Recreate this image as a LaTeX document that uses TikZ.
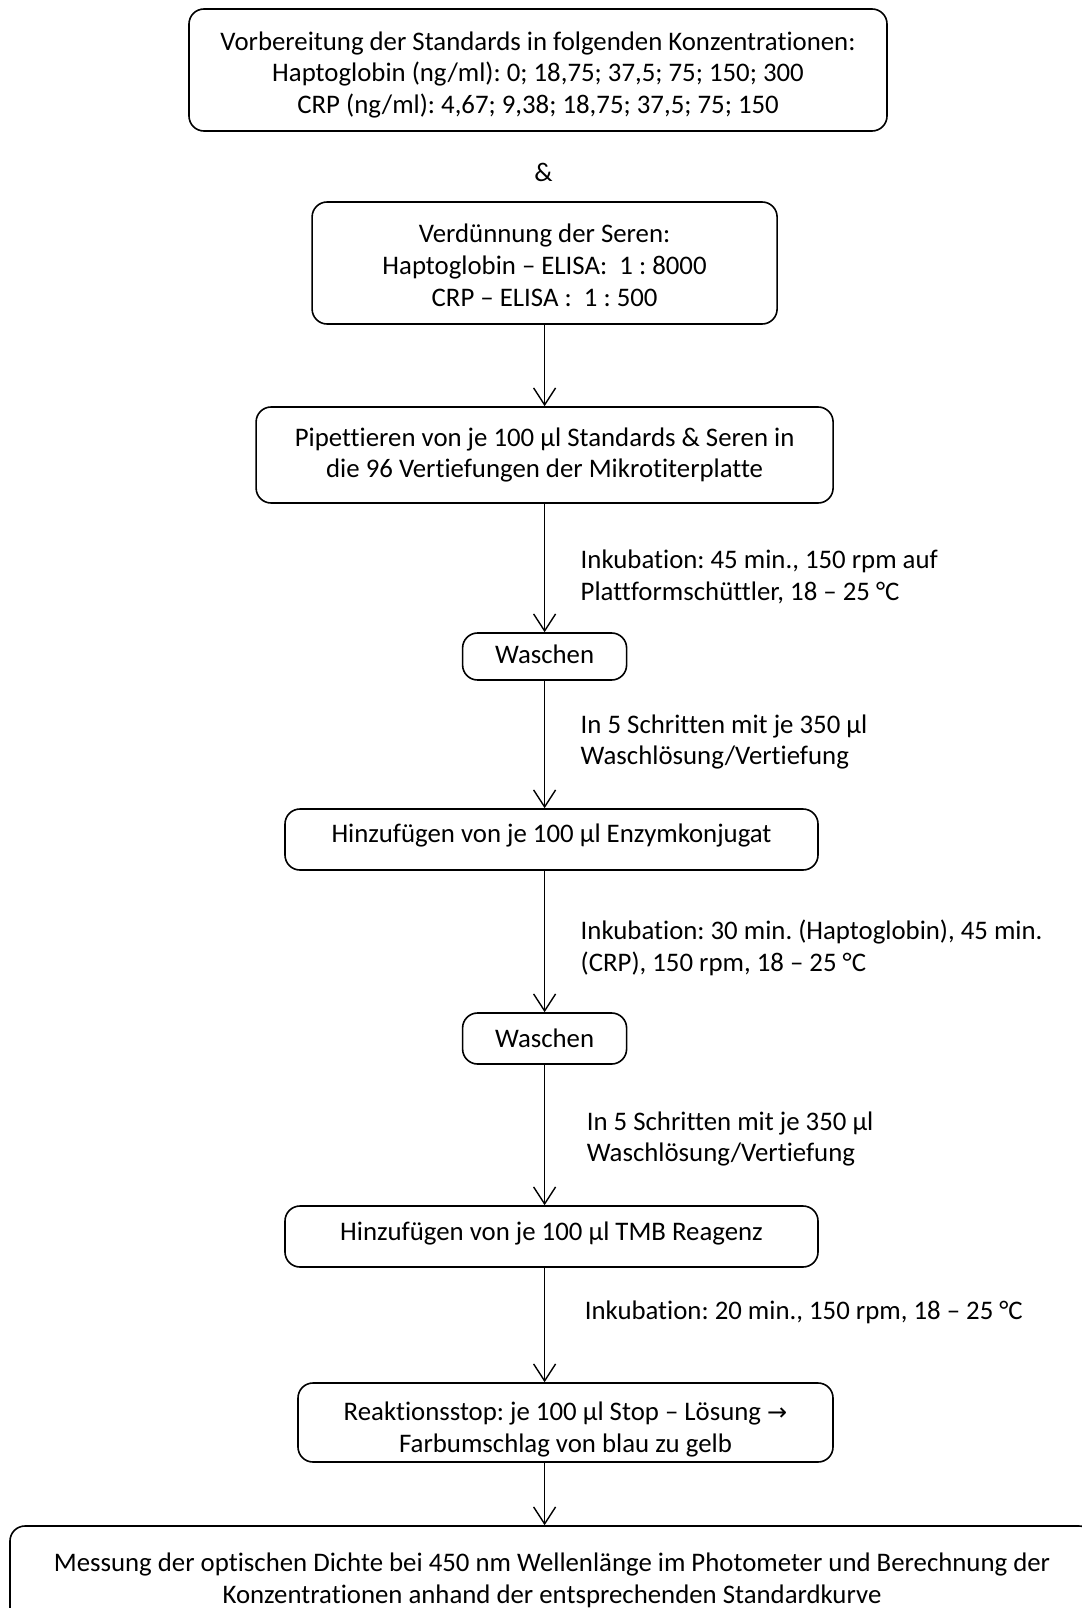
\documentclass[tikz,border=0pt]{standalone}
\usepackage{fontspec}
\setmainfont[Ligatures={NoCommon}]{Carlito}
\newfontfamily\arrowfont{DejaVu Sans}
\usetikzlibrary{arrows.meta}
\frenchspacing
\begin{document}
\begin{tikzpicture}[x=1pt,y=-1pt,
  every node/.style={font=\fontsize{26.8}{31.8}\selectfont\frenchspacing, inner sep=0pt},
  box/.style={draw, line width=1.6pt, rounded corners=15pt},
  txt/.style={align=center},
  lbl/.style={anchor=west, align=left},
  arr/.style={line width=1.4pt, -{Straight Barb[length=17pt,width=22pt,line width=1.4pt]}}]
\useasboundingbox (0,0) rectangle (1081,1608);
% boxes
\node[box, minimum width=698pt, minimum height=122pt] (b1) at (538,70) {};
\node[box, minimum width=465pt, minimum height=122pt] (b2) at (544.6,263) {};
\node[box, minimum width=577pt, minimum height=96pt] (b3) at (544.6,455) {};
\node[box, minimum width=164pt, minimum height=47pt] (b4) at (544.6,656.5) {};
\node[box, minimum width=533pt, minimum height=61pt] (b5) at (551.5,839.5) {};
\node[box, minimum width=164pt, minimum height=51pt] (b6) at (544.6,1038.5) {};
\node[box, minimum width=533pt, minimum height=61pt] (b7) at (551.5,1236.5) {};
\node[box, minimum width=535pt, minimum height=79pt] (b8) at (565.5,1422.5) {};
\node[box, minimum width=1084pt, minimum height=109pt] (b9) at (552,1580.5) {};
% box texts
\node[txt] (t1) at ([yshift=-5pt]b1.center)
  {Vorbereitung der Standards in folgenden Konzentrationen:\\Haptoglobin (ng/ml): 0; 18,75; 37,5; 75; 150; 300\\CRP (ng/ml): 4,67; 9,38; 18,75; 37,5; 75; 150};
\node (amp) at (543.6,172) {\&};
\node[txt] (t2) at ([yshift=-2pt]b2.center)
  {Verdünnung der Seren:\\Haptoglobin -- ELISA:\ \ 1 : 8000\\CRP -- ELISA :\ \ 1 : 500};
\node[txt] (t3) at (b3.center)
  {Pipettieren von je 100 µl Standards \& Seren in\\die 96 Vertiefungen der Mikrotiterplatte};
\node[txt] (t4) at ([yshift=2pt]b4.center) {Waschen};
\node[txt] (t5) at ([yshift=4pt]b5.center) {Hinzufügen von je 100 µl Enzymkonjugat};
\node[txt] (t6) at (b6.center) {Waschen};
\node[txt] (t7) at ([yshift=3pt]b7.center) {Hinzufügen von je 100 µl TMB Reagenz};
\node[txt] (t8) at ([yshift=-7pt]b8.center)
  {Reaktionsstop: je 100 µl Stop -- Lösung {\arrowfont\fontsize{24}{31.8}\selectfont →}\\Farbumschlag von blau zu gelb};
\node[txt] (t9) at (b9.center)
  {Messung der optischen Dichte bei 450 nm Wellenlänge im Photometer und Berechnung der\\Konzentrationen anhand der entsprechenden Standardkurve};
% side labels
\node[lbl] (l1) at (580.5,577) {Inkubation: 45 min., 150 rpm auf\\Plattformschüttler, 18 -- 25 °C};
\node[lbl] (l2) at (580.5,742) {In 5 Schritten mit je 350 µl\\Waschlösung/Vertiefung};
\node[lbl] (l3) at (580.5,948) {Inkubation: 30 min. (Haptoglobin), 45 min.\\(CRP), 150 rpm, 18 -- 25 °C};
\node[lbl] (l4) at (586.6,1139) {In 5 Schritten mit je 350 µl\\Waschlösung/Vertiefung};
\node[lbl] (l5) at (584.6,1312) {Inkubation: 20 min., 150 rpm, 18 -- 25 °C};
% connectors
\draw[arr] (b2.south) -- (b3.north);
\draw[arr] (b3.south) -- (b4.north);
\draw[arr] (b4.south) -- (b4.south |- b5.north);
\draw[arr] (b6.north |- b5.south) -- (b6.north);
\draw[arr] (b6.south) -- (b6.south |- b7.north);
\draw[arr] (b6.south |- b7.south) -- (b6.south |- b8.north);
\draw[arr] (b6.south |- b8.south) -- (b6.south |- b9.north);
\end{tikzpicture}
\end{document}
